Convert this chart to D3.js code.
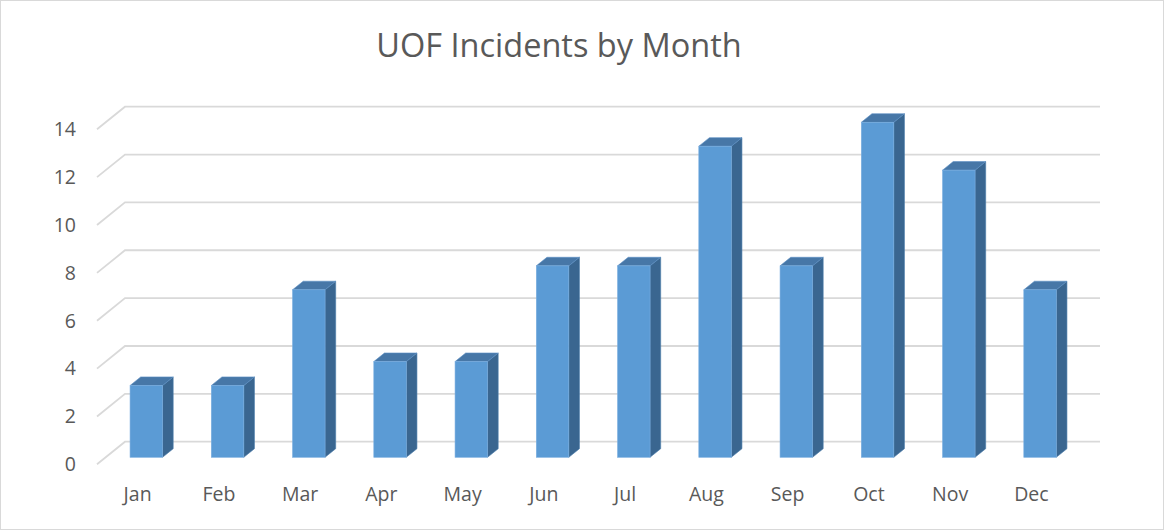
<!DOCTYPE html>
<html>
<head>
<meta charset="utf-8">
<script src="https://cdn.jsdelivr.net/npm/d3@7"></script>
<style>
  body { margin: 0; background: #fff; }
  text { font-family: "Open Sans", "Liberation Sans", sans-serif; fill: #595959; }
</style>
</head>
<body>
<svg></svg>
<script>
let months = ['Jan', 'Feb', 'Mar', 'Apr', 'May', 'Jun', 'Jul', 'Aug', 'Sep', 'Oct', 'Nov', 'Dec']
let incidents = [3, 3, 7, 4, 4, 8, 8, 13, 8, 14, 12, 7]
let yTicks = [0, 2, 4, 6, 8, 10, 12, 14]
let titleText = 'UOF Incidents by Month'

let width = 1165
let height = 531
let svg = d3.select('svg')
    .attr('width', width)
    .attr('height', height)

// oblique depth of the floor / back wall
let depthX = 28
let depthY = 22.6
// bar sits between these depth fractions
let barT0 = 0.31
let barT1 = 0.69

let xScale = d3.scaleBand()
    .domain(months)
    .range([97, 1072])
    .paddingInner(0.6)
    .paddingOuter(0.3)

let yScale = d3.scaleLinear()
    .domain([0, 14])
    .range([464.3, 129.3])

// outer border
svg.append('rect')
    .attr('x', 0.5).attr('y', 0.5)
    .attr('width', width - 2).attr('height', height - 2)
    .attr('fill', '#fff')
    .attr('stroke', '#d9d9d9')

svg.append('text')
    .attr('x', 559)
    .attr('y', 57)
    .attr('text-anchor', 'middle')
    .style('font-size', '32.5px')
    .text(titleText)

// gridlines: front diagonal + back wall line
let grid = svg.append('g')
grid.selectAll('polyline')
    .data(yTicks)
    .enter()
    .append('polyline')
    .attr('points', (v) => {
        let y = yScale(v)
        return [[97, y], [97 + depthX, y - depthY], [1100, y - depthY]].map(p => p.join(',')).join(' ')
    })
    .attr('fill', 'none')
    .attr('stroke', '#d9d9d9')
    .attr('stroke-width', 1.8)

// y axis labels
svg.append('g').selectAll('text')
    .data(yTicks)
    .enter()
    .append('text')
    .attr('x', 76)
    .attr('y', (v) => yScale(v))
    .attr('dy', '0.35em')
    .attr('text-anchor', 'end')
    .style('font-size', '19.5px')
    .text((v) => v)

// x axis labels
svg.append('g').selectAll('text')
    .data(months)
    .enter()
    .append('text')
    .attr('x', (m) => xScale(m) + xScale.bandwidth() / 2)
    .attr('y', 494)
    .attr('dy', '0.35em')
    .attr('text-anchor', 'middle')
    .style('font-size', '19.5px')
    .text((m) => m)

// 3d bars
let bars = svg.append('g').selectAll('g')
    .data(months.map((m, i) => ({ month: m, value: incidents[i] })))
    .enter()
    .append('g')

let pt = (x, y) => x + ',' + y

let face = (d) => {
    let x0 = xScale(d.month) + depthX * barT0
    let x1 = x0 + xScale.bandwidth()
    let yb = yScale(0) - depthY * barT0
    let yt = yScale(d.value) - depthY * barT0
    let ox = depthX * (barT1 - barT0)
    let oy = depthY * (barT1 - barT0)
    return { x0, x1, yb, yt, ox, oy }
}

bars.append('polygon')
    .attr('points', (d) => {
        let f = face(d)
        return [pt(f.x1, f.yb), pt(f.x1 + f.ox, f.yb - f.oy), pt(f.x1 + f.ox, f.yt - f.oy), pt(f.x1, f.yt)].join(' ')
    })
    .attr('fill', '#3a6690')
    .attr('stroke', '#4a7cab')
    .attr('stroke-width', 0.6)

bars.append('polygon')
    .attr('points', (d) => {
        let f = face(d)
        return [pt(f.x0, f.yt), pt(f.x0 + f.ox, f.yt - f.oy), pt(f.x1 + f.ox, f.yt - f.oy), pt(f.x1, f.yt)].join(' ')
    })
    .attr('fill', '#4777a7')
    .attr('stroke', '#5b8fc4')
    .attr('stroke-width', 0.6)

bars.append('rect')
    .attr('x', (d) => face(d).x0)
    .attr('y', (d) => face(d).yt)
    .attr('width', xScale.bandwidth())
    .attr('height', (d) => face(d).yb - face(d).yt)
    .attr('fill', '#5b9bd5')
    .attr('stroke', '#7aaee0')
    .attr('stroke-width', 0.6)
</script>
</body>
</html>
